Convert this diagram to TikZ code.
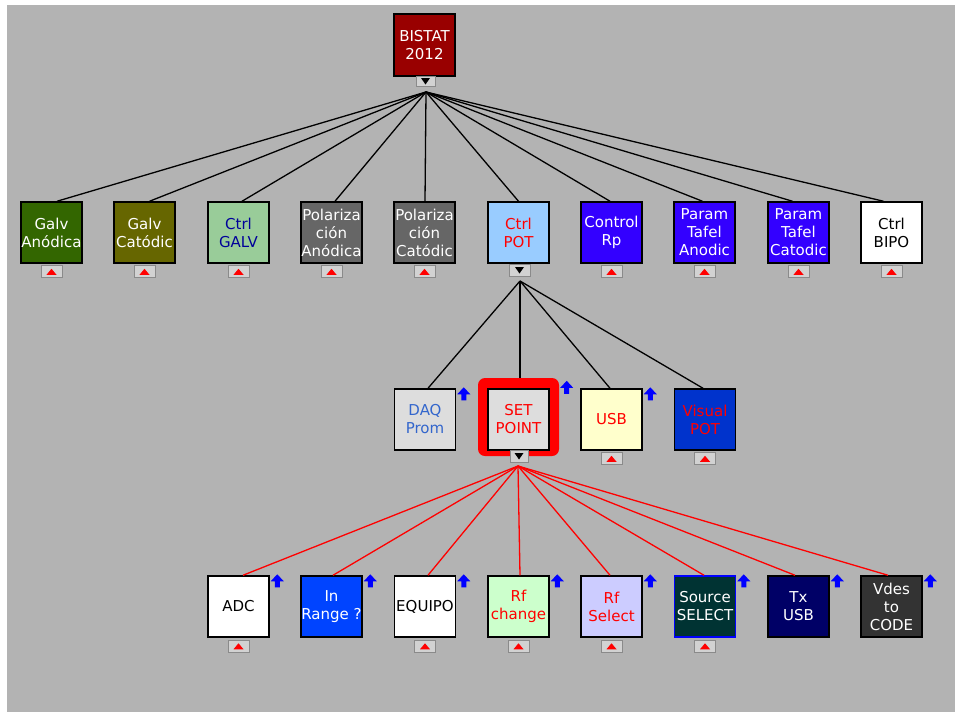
\documentclass[tikz,border=0pt]{standalone}
\usepackage{fontspec}
\setmainfont{DejaVu Sans}
\usetikzlibrary{calc}

\definecolor{bggray}{HTML}{B3B3B3}
\definecolor{btngray}{HTML}{D2D2D2}
\definecolor{btnedge}{HTML}{8A8A8A}
\definecolor{arrowblue}{HTML}{0000FF}
\definecolor{bistat}{HTML}{990000}
\definecolor{galvan}{HTML}{336600}
\definecolor{galvcat}{HTML}{666600}
\definecolor{ctrlgalv}{HTML}{99CC99}
\definecolor{galvtext}{HTML}{000099}
\definecolor{polgray}{HTML}{666666}
\definecolor{ctrlpot}{HTML}{99CCFF}
\definecolor{violet}{HTML}{3300FF}
\definecolor{lightbox}{HTML}{DDDDDD}
\definecolor{daqtext}{HTML}{3366CC}
\definecolor{usbfill}{HTML}{FFFFCC}
\definecolor{visfill}{HTML}{0033CC}
\definecolor{rangefill}{HTML}{0044FF}
\definecolor{rfcfill}{HTML}{CCFFCC}
\definecolor{rfsfill}{HTML}{CCCCFF}
\definecolor{srcfill}{HTML}{003333}
\definecolor{txfill}{HTML}{000066}
\definecolor{vdfill}{HTML}{333333}

\begin{document}
\begin{tikzpicture}[x=1pt,y=-1pt,
  box/.style={draw=black, line width=1.5pt, minimum width=61pt, minimum height=61pt,
    inner sep=0pt, align=center, font=\fontsize{15}{18}\selectfont},
  btn/.style={fill=btngray, draw=btnedge, line width=0.7pt, minimum width=21pt,
    minimum height=12pt, inner sep=0pt},
  conn/.style={line width=1.3pt, black},
  redconn/.style={line width=1.3pt, red},
  uptri/.pic={\fill[red] (-5,3) -- (5,3) -- (0,-3) -- cycle;},
  downtri/.pic={\fill[black] (-4.5,-3) -- (4.5,-3) -- (0,3.5) -- cycle;},
  bluearrow/.pic={\fill[arrowblue] (6.5,0) -- (13,7) -- (9,7) -- (9,13) -- (4,13) -- (4,7) -- (0,7) -- cycle;}
]
\useasboundingbox (0,0) rectangle (955,712);
\fill[white] (0,0) rectangle (955,712);
\fill[bggray] (7,5) rectangle (955,712);

% root
\node[box, fill=bistat, text=white, minimum height=62pt] (root) at (424.5,45) {BISTAT\\2012};
\node[btn, minimum width=19pt, minimum height=10pt] (rootb) at (425.5,81) {};
\pic at (rootb) {downtri};
\coordinate (fan0) at (426,92);

% first level
\node[box, fill=galvan, text=white]      (g1)  at (51.5,232.5)  {Galv\\Anódica};
\node[box, fill=galvcat, text=white]     (g2)  at (144.5,232.5) {Galv\\Catódic};
\node[box, fill=ctrlgalv, text=galvtext] (g3)  at (238.5,232.5) {Ctrl\\GALV};
\node[box, fill=polgray, text=white]     (g4)  at (331.5,232.5) {Polariza\\ción\\Anódica};
\node[box, fill=polgray, text=white]     (g5)  at (424.5,232.5) {Polariza\\ción\\Catódic};
\node[box, fill=ctrlpot, text=red]       (g6)  at (518.5,232.5) {Ctrl\\POT};
\node[box, fill=violet, text=white]      (g7)  at (611.5,232.5) {Control\\Rp};
\node[box, fill=violet, text=white]      (g8)  at (704.5,232.5) {Param\\Tafel\\Anodic};
\node[box, fill=violet, text=white]      (g9)  at (798.5,232.5) {Param\\Tafel\\Catodic};
\node[box, fill=white, text=black]       (g10) at (891.5,232.5) {Ctrl\\BIPO};

\foreach \n in {g1,g2,g3,g4,g5,g7,g8,g9,g10}{
  \node[btn] (\n-b) at ($(\n.south)+(0,8)$) {};
  \pic at (\n-b) {uptri};
}
\node[btn] (g6-b) at (519.5,270) {};
\pic at (g6-b) {downtri};
\coordinate (fan1) at (520,281);

\foreach \n/\d in {g1/5.5,g2/5,g3/3.5,g4/3.5,g5/0.5,g6/0,g7/-1.5,g8/-2,g9/-6,g10/-8}{
  \draw[conn] (fan0) -- ($(\n.north)+(\d,0)$);
}

% second level
\node[fill=red, rounded corners=7pt, minimum width=81pt, minimum height=78pt, inner sep=0pt] (spf) at (518.5,417) {};
\node[box, fill=lightbox, text=daqtext] (daq) at (425,419.5)   {DAQ\\Prom};
\node[box, fill=lightbox, text=red]     (sp)  at (518.5,419.5) {SET\\POINT};
\node[box, fill=usbfill, text=red]      (usb) at (611.5,419.5) {USB};
\node[box, fill=visfill, text=red]      (vp)  at (705,419.5)   {Visual\\POT};

\foreach \n in {usb,vp}{
  \node[btn] (\n-b) at ($(\n.south)+(0,8)$) {};
  \pic at (\n-b) {uptri};
}
\node[btn, minimum width=18pt] (sp-b) at (519,456) {};
\pic at (sp-b) {downtri};
\coordinate (fan2) at (518,466);

\draw[conn] (fan1) -- ($(daq.north)+(3,0)$);
\draw[conn] (fan1) -- (spf.north -| fan1);
\draw[conn] (fan1) -- ($(usb.north)+(-1.5,0)$);
\draw[conn] (fan1) -- ($(vp.north)+(-2,0)$);

\pic at ($(daq.north east)+(1,-1)$) {bluearrow};
\pic at ($(spf.north east)+(1,3)$) {bluearrow};
\pic at ($(usb.north east)+(1,-1)$) {bluearrow};

% third level
\node[box, fill=white, text=black]       (adc) at (238.5,606.5) {ADC};
\node[box, fill=rangefill, text=white]   (inr) at (331.5,606.5) {In\\Range ?};
\node[box, fill=white, text=black]       (eq)  at (425,606.5)   {EQUIPO};
\node[box, fill=rfcfill, text=red]       (rfc) at (518.5,606.5) {Rf\\change};
\node[box, fill=rfsfill, text=red]       (rfs) at (611.5,606.5) {Rf\\Select};
\node[box, fill=srcfill, text=white, draw=arrowblue] (src) at (705,606.5) {Source\\SELECT};
\node[box, fill=txfill, text=white]      (tx)  at (798.5,606.5) {Tx\\USB};
\node[box, fill=vdfill, text=white]      (vd)  at (891.5,606.5) {Vdes\\to\\CODE};

\foreach \n in {adc,eq,rfc,rfs,src}{
  \node[btn] (\n-b) at ($(\n.south)+(0,8.5)$) {};
  \pic at (\n-b) {uptri};
}

\foreach \n/\d in {adc/4.5,inr/1.5,eq/3,rfc/1.5,rfs/-1.5,src/-1,tx/-3.5,vd/-3.5}{
  \draw[redconn] (fan2) -- ($(\n.north)+(\d,0)$);
  \pic at ($(\n.north east)+(1,-1)$) {bluearrow};
}
\end{tikzpicture}
\end{document}
